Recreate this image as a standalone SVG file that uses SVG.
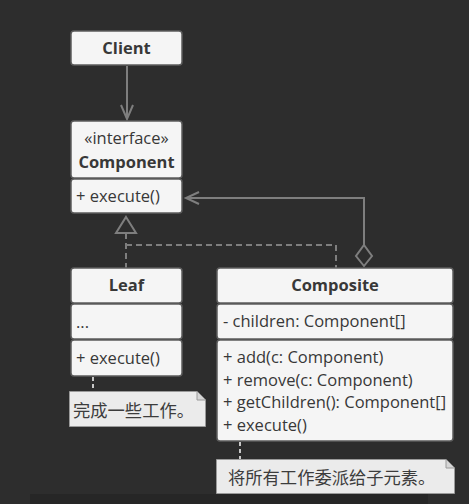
<svg xmlns="http://www.w3.org/2000/svg" width="469" height="504" viewBox="0 0 469 504">
<style>
.box{fill:#f5f5f5;stroke:#5c5c5c;stroke-width:1.5}
.t{font-family:"Open Sans","Noto Sans","DejaVu Sans",sans-serif;font-size:16.5px;fill:#383838}
.b{font-weight:bold}
.c{text-anchor:middle}
.cjk{font-family:"Noto Sans CJK SC","Noto Sans",sans-serif;font-size:17.3px;fill:#3c3c3c}
.ln{fill:none;stroke:#7e7e7e;stroke-width:2}
.dash{fill:none;stroke:#7e7e7e;stroke-width:2;stroke-dasharray:6 4}
.ndash{fill:none;stroke:#c8c8c8;stroke-width:2;stroke-dasharray:4 3}
.note{fill:#ebebeb;stroke:#9a9a9a;stroke-width:1}
.fold{fill:#d6d6d6;stroke:#9a9a9a;stroke-width:1}
</style>
<rect width="469" height="504" fill="#2d2d2d"/>
<rect x="30" y="494" width="398" height="10" fill="#262626"/>
<g id="connectors">
<path class="ln" d="M127 66 V119"/>
<path class="ln" d="M121 105 L127 119 L133 105"/>
<path class="ln" d="M364 245 V198 H186"/>
<path class="ln" d="M199 192 L186 198 L199 204"/>
<path d="M364 245 L372 256 L364 266 L356 256 Z" fill="#2d2d2d" stroke="#7e7e7e" stroke-width="2"/>
<path class="dash" d="M126 233 V268"/>
<path class="dash" d="M126 245 H336 V268"/>
<path d="M126 217 L136 233 L116 233 Z" fill="#2d2d2d" stroke="#7e7e7e" stroke-width="2"/>
<path class="ndash" d="M93 377 V391"/>
<path class="ndash" d="M240 442 V459"/>
</g>
<g id="client">
<rect class="box" x="71" y="31" width="111" height="34" rx="3"/>
<text class="t b c" x="126.5" y="54">Client</text>
</g>
<g id="component">
<rect class="box" x="71" y="121" width="111" height="57" rx="3"/>
<rect class="box" x="71" y="179" width="111" height="34" rx="3"/>
<text class="t c" x="126.5" y="144">«interface»</text>
<text class="t b c" x="126.5" y="168">Component</text>
<text class="t" x="76" y="202">+ execute()</text>
</g>
<g id="leaf">
<rect class="box" x="71" y="268" width="111" height="35" rx="3"/>
<rect class="box" x="71" y="304" width="111" height="35" rx="3"/>
<rect class="box" x="71" y="340" width="111" height="36" rx="3"/>
<text class="t b c" x="126.5" y="291">Leaf</text>
<text class="t" x="76" y="328">...</text>
<text class="t" x="76" y="364">+ execute()</text>
</g>
<g id="composite">
<rect class="box" x="217" y="268" width="236" height="35" rx="3"/>
<rect class="box" x="217" y="304" width="236" height="35" rx="3"/>
<rect class="box" x="217" y="340" width="236" height="101" rx="3"/>
<text class="t b c" x="335" y="291">Composite</text>
<text class="t" x="223" y="327">- children: Component[]</text>
<text class="t" x="223" y="363">+ add(c: Component)</text>
<text class="t" x="223" y="386">+ remove(c: Component)</text>
<text class="t" x="223" y="408">+ getChildren(): Component[]</text>
<text class="t" x="223" y="431">+ execute()</text>
</g>
<g id="note-leaf">
<path class="note" d="M69.5 391.5 H197 L205.5 400 V426.5 H69.5 Z"/>
<path class="fold" d="M197 391.5 V400 H205.5"/>
<text class="cjk" x="73" y="417">完成一些工作。</text>
</g>
<g id="note-composite">
<path class="note" d="M216.5 459.5 H446 L454.5 468 V493.5 H216.5 Z"/>
<path class="fold" d="M446 459.5 V468 H454.5"/>
<text class="cjk" x="228" y="484">将所有工作委派给子元素。</text>
</g>
</svg>
